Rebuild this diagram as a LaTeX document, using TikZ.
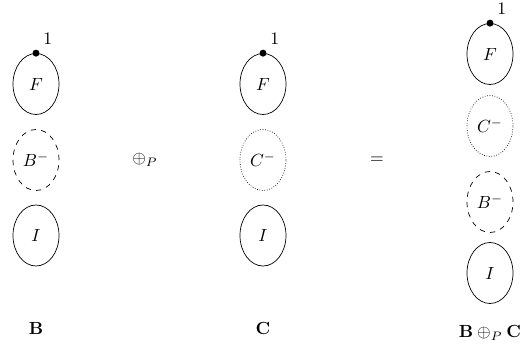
\documentclass[tikz,border=0pt]{standalone}
\usetikzlibrary{shapes.geometric}
\tikzset{
  part/.style={ellipse, draw, minimum width=0.92cm, minimum height=1.22cm, inner sep=0pt},
  negpart/.style={part, dashed},
  dotpart/.style={part, densely dotted},
  root/.style={anchor=south west, inner sep=1pt, xshift=3pt, yshift=4pt}
}
\begin{document}
\begin{tikzpicture}
\useasboundingbox (0,0) rectangle (10.62,6.98);
% B
\node[part] (bF) at (0.72,5.30) {$F$};
\node[negpart] (bB) at (0.72,3.78) {$B^-$};
\node[part] (bI) at (0.72,2.27) {$I$};
\fill (bF.north) circle (0.07);
\node[root] (b1) at (bF.north) {$1$};
\node (bname) at (0.72,0.42) {$\mathbf{B}$};
% operator
\node (op) at (2.90,3.78) {$\oplus_P$};
% C
\node[part] (cF) at (5.26,5.30) {$F$};
\node[dotpart] (cC) at (5.26,3.78) {$C^-$};
\node[part] (cI) at (5.26,2.27) {$I$};
\fill (cF.north) circle (0.07);
\node[root] (c1) at (cF.north) {$1$};
\node (cname) at (5.26,0.42) {$\mathbf{C}$};
% equals
\node (eq) at (7.54,3.78) {$=$};
% B (+) C
\node[part] (rF) at (9.80,5.90) {$F$};
\node[dotpart] (rC) at (9.80,4.46) {$C^-$};
\node[negpart] (rB) at (9.80,2.94) {$B^-$};
\node[part] (rI) at (9.80,1.52) {$I$};
\fill (rF.north) circle (0.07);
\node[root] (r1) at (rF.north) {$1$};
\node (rname) at (9.80,0.32) {$\mathbf{B}\oplus_P\mathbf{C}$};
\end{tikzpicture}
\end{document}
